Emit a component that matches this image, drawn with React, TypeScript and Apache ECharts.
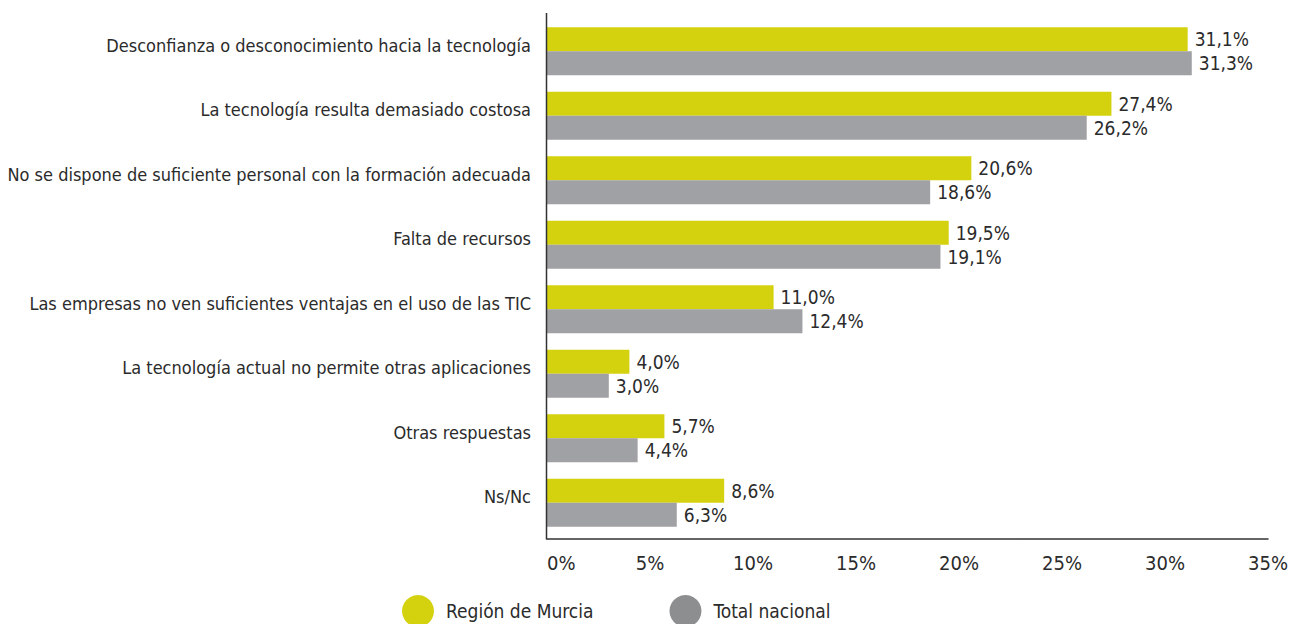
import React, { useEffect, useRef } from "react";
import * as echarts from "echarts";

const categories = [
  "Desconfianza o desconocimiento hacia la tecnología",
  "La tecnología resulta demasiado costosa",
  "No se dispone de suficiente personal con la formación adecuada",
  "Falta de recursos",
  "Las empresas no ven suficientes ventajas en el uso de las TIC",
  "La tecnología actual no permite otras aplicaciones",
  "Otras respuestas",
  "Ns/Nc",
];
const murcia = [31.1, 27.4, 20.6, 19.5, 11.0, 4.0, 5.7, 8.6];
const nacional = [31.3, 26.2, 18.6, 19.1, 12.4, 3.0, 4.4, 6.3];
const seriesNames = ["Región de Murcia", "Total nacional"];
const xTicks = { min: 0, max: 35, interval: 5 };

const FONT = '"Liberation Sans Narrow", "DejaVu Sans Condensed", "Roboto", sans-serif';
const TEXT = "#2b2b2b";
const fmt = (v: number) => v.toFixed(1).replace(".", ",") + "%";

export default function App() {
  const ref = useRef<HTMLDivElement>(null);
  useEffect(() => {
    if (!ref.current) return;
    const chart = echarts.init(ref.current, null, { renderer: "svg" });
    const label = {
      show: true,
      position: "right",
      distance: 7,
      color: TEXT,
      fontFamily: FONT,
      fontSize: 19,
      formatter: (p: any) => fmt(p.value),
    };
    chart.setOption({
      animation: false,
      textStyle: { fontFamily: FONT },
      grid: {
        left: 547,
        right: 24,
        top: 19,
        bottom: 89,
        containLabel: false,
        outerBoundsMode: "none",
      },
      legend: {
        left: 397,
        top: 590,
        itemWidth: 32,
        itemHeight: 32,
        itemGap: 76,
        icon: "circle",
        data: [
          { name: seriesNames[0], itemStyle: { color: "#d4d20f" } },
          { name: seriesNames[1], itemStyle: { color: "#8c8e90" } },
        ],
        textStyle: { fontFamily: FONT, fontSize: 19, color: TEXT, padding: [0, 0, 0, 7] },
      },
      xAxis: {
        type: "value",
        min: xTicks.min,
        max: xTicks.max,
        interval: xTicks.interval,
        offset: 4,
        axisLine: { show: true, lineStyle: { color: "#333", width: 1.5 } },
        axisTick: { show: false },
        splitLine: { show: false },
        axisLabel: {
          formatter: "{value}%",
          color: TEXT,
          fontFamily: FONT,
          fontSize: 20,
          margin: 14,
          alignMinLabel: "left",
        },
      },
      yAxis: {
        type: "category",
        data: categories,
        inverse: true,
        axisLine: { show: false },
        axisTick: { show: false },
        axisLabel: {
          color: TEXT,
          fontFamily: FONT,
          fontSize: 18,
          margin: 16,
          verticalAlign: "bottom",
          lineHeight: 12,
        },
      },
      series: [
        {
          name: seriesNames[0],
          type: "bar",
          data: murcia,
          barWidth: 24,
          barGap: "0%",
          itemStyle: { color: "#d4d20f" },
          label,
        },
        {
          name: seriesNames[1],
          type: "bar",
          data: nacional,
          barWidth: 24,
          barGap: "0%",
          itemStyle: { color: "#a0a1a4" },
          label,
        },
      ],
      graphic: [
        {
          type: "line",
          shape: { x1: 546.5, y1: 13, x2: 546.5, y2: 539.5 },
          style: { stroke: "#333", lineWidth: 1.5 },
          z: 10,
        },
      ],
    });
    return () => chart.dispose();
  }, []);
  return <div ref={ref} style={{ width: 1292, height: 624, position: "absolute", left: 0, top: 0 }} />;
}
